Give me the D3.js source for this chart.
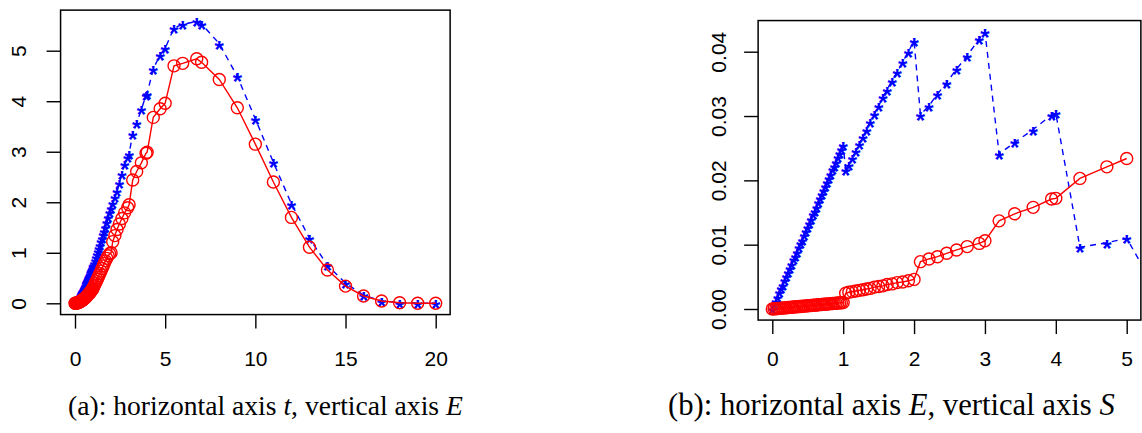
<!DOCTYPE html>
<html><head><meta charset="utf-8">
<script src="https://cdn.jsdelivr.net/npm/d3@7/dist/d3.min.js"></script>
<style>html,body{margin:0;padding:0;background:#fff;}svg{display:block;}</style>
</head><body>
<svg id="c" width="1142" height="433"></svg>
<script>
// shared time points
const tValues = [0,0.025,0.05,0.075,0.1,0.125,0.15,0.175,0.2,0.225,0.25,0.275,0.3,0.325,0.35,0.375,0.4,0.425,0.45,0.475,0.5,0.525,0.55,0.575,0.6,0.625,0.65,0.675,0.7,0.725,0.75,0.775,0.8,0.825,0.85,0.875,0.9,0.925,0.95,0.975,1.0,
 1.035,1.08,1.13,1.18,1.23,1.28,1.33,1.38,1.44,1.50,1.56,1.62,1.69,1.76,1.84,1.92,2.0,
 2.09,2.21,2.33,2.46,2.60,2.75,2.92,3.0,
 3.2,3.42,3.68,3.94,4.0,
 4.34,4.72,5.0,
 5.49,5.97,6.75,7.02,8,9,10,11,12,13,14,15,16,17,18,19,20];
// panel (a): E (red, circles, solid) and E (blue, stars, dashed)
const eRed = [0,0.001,0.002,0.004,0.006,0.009,0.012,0.015,0.019,0.023,0.027,0.032,0.037,0.042,0.048,0.054,0.060,0.067,0.074,0.081,0.088,0.096,0.104,0.112,0.121,0.130,0.139,0.148,0.158,0.168,0.178,0.189,0.200,0.211,0.222,0.234,0.246,0.258,0.271,0.284,0.297,
 0.33,0.36,0.40,0.43,0.47,0.51,0.55,0.59,0.64,0.69,0.74,0.79,0.84,0.89,0.94,0.98,1.0,
 1.22,1.34,1.46,1.57,1.68,1.79,1.89,1.95,
 2.44,2.61,2.78,2.97,2.99,
 3.68,3.85,3.96,
 4.70,4.75,4.84,4.77,4.43,3.87,3.15,2.40,1.70,1.11,0.66,0.34,0.145,0.045,0.01,0.002,0];
const eBlue = [0,0.006,0.014,0.025,0.036,0.048,0.061,0.074,0.088,0.103,0.118,0.133,0.149,0.166,0.182,0.200,0.217,0.235,0.253,0.272,0.292,0.311,0.331,0.351,0.371,0.392,0.413,0.434,0.455,0.477,0.499,0.521,0.543,0.566,0.589,0.612,0.635,0.658,0.682,0.706,0.730,
 0.75,0.80,0.86,0.92,0.98,1.04,1.10,1.16,1.23,1.30,1.37,1.44,1.52,1.60,1.70,1.80,1.89,
 1.98,2.10,2.22,2.38,2.56,2.75,2.90,2.96,
 3.35,3.57,3.84,4.12,4.15,
 4.64,4.92,5.05,
 5.45,5.52,5.58,5.53,5.14,4.49,3.65,2.79,1.97,1.29,0.75,0.40,0.16,0.05,0.01,0.002,0];
// panel (b): S values (first points of tValues)
const sRed = [0,0.00003,0.00005,0.00008,0.0001,0.00013,0.00015,0.00018,0.0002,0.00023,0.00025,0.00028,0.0003,0.00033,0.00035,0.00038,0.0004,0.00043,0.00045,0.00048,0.0005,0.00053,0.00055,0.00058,0.0006,0.00063,0.00065,0.00068,0.0007,0.00073,0.00075,0.00078,0.0008,0.00083,0.00085,0.00088,0.0009,0.00093,0.00095,0.00098,0.001,
 0.00244,0.0026,0.0027,0.0028,0.0029,0.0030,0.0031,0.0032,0.0034,0.0035,0.0036,0.0038,0.0039,0.0041,0.0042,0.0044,0.0046,
 0.00736,0.00778,0.00813,0.00866,0.00918,0.0097,0.0102,0.0106,
 0.0137,0.0148,0.0158,0.0171,0.0172,
 0.0203,0.0221,0.0234];
const sBlue = [0,0.0007,0.0013,0.0019,0.0026,0.0032,0.0038,0.0045,0.0051,0.0058,0.0064,0.0070,0.0077,0.0083,0.0089,0.0096,0.0102,0.0108,0.0115,0.0121,0.0128,0.0134,0.0140,0.0147,0.0153,0.0159,0.0166,0.0172,0.0179,0.0185,0.0191,0.0198,0.0204,0.0210,0.0217,0.0223,0.0229,0.0236,0.0242,0.0248,0.0255,
 0.0216,0.0224,0.0235,0.0246,0.0257,0.0268,0.0279,0.0290,0.0303,0.0316,0.0329,0.0341,0.0355,0.0368,0.0384,0.0400,0.0417,
 0.0302,0.0316,0.0334,0.0352,0.0373,0.0394,0.0420,0.0431,
 0.0241,0.0259,0.0279,0.0302,0.0304,
 0.0096,0.0103,0.0110,
 0.0015];
const xTicksA = [0,5,10,15,20];
const yTicksA = [0,1,2,3,4,5];
const xTicksB = [0,1,2,3,4,5];
const yTicksB = [0,0.01,0.02,0.03,0.04];
const yTickLabelsB = ["0.00","0.01","0.02","0.03","0.04"];

const RED = "#ff0000", BLUE = "#0000ff";
const svg = d3.select("#c");
const tickFont = "'Liberation Sans', Arial, Helvetica, sans-serif";

function panel(cfg) {
  const g = svg.append("g");
  const x = cfg.x, y = cfg.y;
  const [bx0, bx1] = [x(cfg.xlim[0]), x(cfg.xlim[1])];
  const [by0, by1] = [y(cfg.ylim[1]), y(cfg.ylim[0])];
  const clipId = "clip" + cfg.id;
  svg.append("defs").append("clipPath").attr("id", clipId)
    .append("rect").attr("x", bx0).attr("y", by0).attr("width", bx1 - bx0).attr("height", by1 - by0);
  const plot = g.append("g").attr("clip-path", `url(#${clipId})`);

  cfg.series.forEach(s => {
    const pts = s.values.map((v, i) => [cfg.xs[i], v]).filter(d => d[0] <= cfg.xlim[1]);
    const linePts = s.values.map((v, i) => [cfg.xs[i], v]);
    plot.append("path").datum(linePts)
      .attr("fill", "none").attr("stroke", s.color).attr("stroke-width", 1.4)
      .attr("stroke-dasharray", s.dash || null)
      .attr("d", d3.line().x(d => x(d[0])).y(d => y(d[1])));
    if (s.marker === "circle") {
      plot.selectAll(null).data(pts).join("circle")
        .attr("cx", d => x(d[0])).attr("cy", d => y(d[1])).attr("r", 6)
        .attr("fill", "none").attr("stroke", s.color).attr("stroke-width", 1.4);
    } else {
      plot.selectAll(null).data(pts).join("text")
        .attr("x", d => x(d[0])).attr("y", d => y(d[1]) + 14)
        .attr("text-anchor", "middle").attr("font-family", tickFont).attr("font-weight", "bold")
        .attr("font-size", 24).attr("fill", s.color).text("*");
    }
  });

  g.append("rect").attr("x", bx0).attr("y", by0).attr("width", bx1 - bx0).attr("height", by1 - by0)
    .attr("fill", "none").attr("stroke", "#000").attr("stroke-width", 1.5);

  const xAxis = d3.axisBottom(x).tickValues(cfg.xTicks).tickSize(14).tickPadding(0).tickFormat(d3.format("d"));
  const gx = g.append("g").attr("transform", `translate(0,${by1})`).call(xAxis);
  gx.select(".domain").remove();
  gx.selectAll(".tick line").attr("stroke", "#000").attr("stroke-width", 1.4);
  gx.selectAll(".tick text").attr("font-family", tickFont).attr("font-size", 21).attr("fill", "#000")
    .attr("y", 366 - by1).attr("dy", null);

  const yAxis = d3.axisLeft(y).tickValues(cfg.yTicks).tickSize(14).tickFormat((d, i) => cfg.yLabels[i]);
  const gy = g.append("g").attr("transform", `translate(${bx0},0)`).call(yAxis);
  gy.select(".domain").remove();
  gy.selectAll(".tick line").attr("stroke", "#000").attr("stroke-width", 1.4);
  gy.selectAll(".tick text").attr("font-family", tickFont).attr("font-size", 21).attr("fill", "#000")
    .attr("x", null).attr("dy", null).attr("text-anchor", "middle")
    .attr("transform", `translate(${cfg.yLabelX - bx0},0) rotate(-90)`);
}

const xA = d3.scaleLinear().domain([0, 20]).range([75, 435.7]);
const yA = d3.scaleLinear().domain([0, 5]).range([303.3, 50.7]);
panel({
  id: "a", x: xA, y: yA, xlim: [-0.8, 20.8], ylim: [-0.2232, 5.8032],
  xs: tValues,
  series: [
    { values: eBlue, color: BLUE, dash: "6,5", marker: "star" },
    { values: eRed, color: RED, marker: "circle" }
  ],
  xTicks: xTicksA, yTicks: yTicksA, yLabels: yTicksA.map(String), yLabelX: 25.5
});

const xB = d3.scaleLinear().domain([0, 5]).range([772.3, 1126.7]);
const yB = d3.scaleLinear().domain([0, 0.04]).range([309, 51.7]);
panel({
  id: "b", x: xB, y: yB, xlim: [-0.2, 5.2], ylim: [-0.00172, 0.04484],
  xs: tValues,
  series: [
    { values: sBlue, color: BLUE, dash: "6,5", marker: "star" },
    { values: sRed, color: RED, marker: "circle" }
  ],
  xTicks: xTicksB, yTicks: yTicksB, yLabels: yTickLabelsB, yLabelX: 726
});

// captions
function caption(parts, x0, width, baseline) {
  const t = svg.append("text").attr("x", x0).attr("y", baseline)
    .attr("font-family", "'Liberation Serif', 'DejaVu Serif', serif").attr("font-size", 22).attr("fill", "#000");
  parts.forEach(p => t.append("tspan").attr("font-style", p.it ? "italic" : "normal").text(p.s));
  const w = t.node().getComputedTextLength();
  t.attr("font-size", 22 * width / w);
}
caption([{s:"(a): horizontal axis "},{s:"t",it:true},{s:", vertical axis "},{s:"E",it:true}], 68, 395, 415);
caption([{s:"(b): horizontal axis "},{s:"E",it:true},{s:", vertical axis "},{s:"S",it:true}], 668, 447, 415);
</script>
</body></html>
